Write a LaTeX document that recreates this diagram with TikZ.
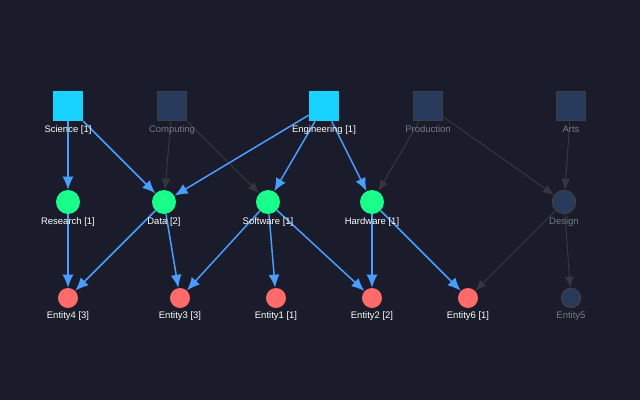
\documentclass[tikz,border=0pt]{standalone}
\usepackage{fontspec}
\setmainfont{Liberation Sans}
\usetikzlibrary{arrows.meta,positioning}
\definecolor{bgdark}{HTML}{1A1B2B}
\definecolor{catcyan}{HTML}{18D2FF}
\definecolor{midgreen}{HTML}{1AFF8C}
\definecolor{entred}{HTML}{FF6B6B}
\definecolor{offfill}{HTML}{273A5C}
\definecolor{offdraw}{HTML}{3E3E44}
\definecolor{onedge}{HTML}{4A9EFF}
\definecolor{offedge}{HTML}{36363C}
\definecolor{offtext}{HTML}{7A7A80}
\tikzset{
  cat/.style={rectangle,inner sep=0pt,minimum size=0.6cm,fill=catcyan},
  catoff/.style={rectangle,inner sep=0pt,minimum size=0.58cm,fill=offfill,draw=offdraw,line width=0.8pt},
  mid/.style={circle,inner sep=0pt,minimum size=0.48cm,fill=midgreen},
  midoff/.style={circle,inner sep=0pt,minimum size=0.46cm,fill=offfill,draw=offdraw,line width=0.8pt},
  ent/.style={circle,inner sep=0pt,minimum size=0.4cm,fill=entred},
  entoff/.style={circle,inner sep=0pt,minimum size=0.38cm,fill=offfill,draw=offdraw,line width=0.8pt},
  lbl/.style={font=\fontsize{5.4}{6}\selectfont,text=white,inner sep=0pt,anchor=base},
  lbloff/.style={lbl,text=offtext},
  on/.style={-{Latex[length=2.6mm,width=2.2mm]},draw=onedge,line width=0.85pt},
  off/.style={-{Latex[length=2.2mm,width=1.8mm]},draw=offedge,line width=0.6pt}
}

\begin{document}
\begin{tikzpicture}[x=0.02cm,y=-0.02cm]
    \fill[bgdark] (0,0) rectangle (640,400);
    \useasboundingbox (0,0) rectangle (640,400);

    % === Top row: categories ===
    \node[cat] (science) at (68,106) {};
    \node[catoff] (computing) at (172,106) {};
    \node[cat] (engineering) at (324,106) {};
    \node[catoff] (production) at (428,106) {};
    \node[catoff] (arts) at (571,106) {};

    % === Middle row ===
    \node[mid] (research) at (68,202) {};
    \node[mid] (data) at (164,202) {};
    \node[mid] (software) at (268,202) {};
    \node[mid] (hardware) at (372,202) {};
    \node[midoff] (design) at (564,202) {};

    % === Bottom row: entities ===
    \node[ent] (entity4) at (68,298) {};
    \node[ent] (entity3) at (180,298) {};
    \node[ent] (entity1) at (276,298) {};
    \node[ent] (entity2) at (372,298) {};
    \node[ent] (entity6) at (468,298) {};
    \node[entoff] (entity5) at (571,298) {};

    % Inactive links
    \foreach \a/\b in {computing/data, computing/software, production/hardware,
                       production/design, arts/design, design/entity6, design/entity5} {
        \draw[off] (\a) -- (\b);
    }

    % Active links
    \foreach \a/\b in {science/research, science/data, engineering/data,
                       engineering/software, engineering/hardware,
                       research/entity4, data/entity4, data/entity3,
                       software/entity3, software/entity1, software/entity2,
                       hardware/entity2, hardware/entity6} {
        \draw[on] (\a) -- (\b);
    }

    % Labels
    \node[lbl] (science-l) at (68,132) {Science [1]};
    \node[lbloff] (computing-l) at (172,132) {Computing};
    \node[lbl] (engineering-l) at (324,132) {Engineering [1]};
    \node[lbloff] (production-l) at (428,132) {Production};
    \node[lbloff] (arts-l) at (571,132) {Arts};

    \node[lbl] (research-l) at (68,224) {Research [1]};
    \node[lbl] (data-l) at (164,224) {Data [2]};
    \node[lbl] (software-l) at (268,224) {Software [1]};
    \node[lbl] (hardware-l) at (372,224) {Hardware [1]};
    \node[lbloff] (design-l) at (564,224) {Design};

    \node[lbl] (entity4-l) at (68,318) {Entity4 [3]};
    \node[lbl] (entity3-l) at (180,318) {Entity3 [3]};
    \node[lbl] (entity1-l) at (276,318) {Entity1 [1]};
    \node[lbl] (entity2-l) at (372,318) {Entity2 [2]};
    \node[lbl] (entity6-l) at (468,318) {Entity6 [1]};
    \node[lbloff] (entity5-l) at (571,318) {Entity5};

\end{tikzpicture}
\end{document}
